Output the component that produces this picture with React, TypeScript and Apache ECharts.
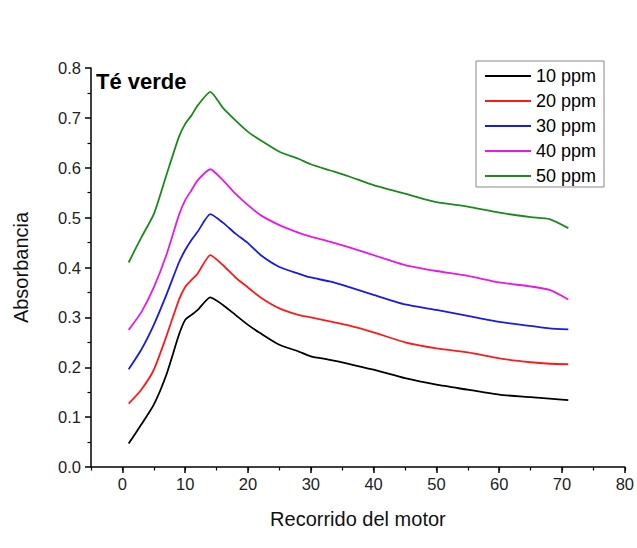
import React, { useEffect, useRef } from "react";
import * as echarts from "echarts";

const recorrido = [1, 3, 5, 7, 9, 10, 11, 12, 14, 16, 18, 20, 22, 25, 28, 30, 33, 36, 40, 45, 50, 55, 60, 65, 68, 71];
const ppm10 = [0.047, 0.085, 0.125, 0.185, 0.265, 0.295, 0.305, 0.315, 0.34, 0.325, 0.305, 0.285, 0.268, 0.245, 0.232, 0.222, 0.215, 0.207, 0.195, 0.178, 0.165, 0.155, 0.145, 0.14, 0.137, 0.134];
const ppm20 = [0.127, 0.155, 0.195, 0.262, 0.335, 0.361, 0.375, 0.388, 0.425, 0.405, 0.38, 0.36, 0.34, 0.318, 0.305, 0.3, 0.292, 0.284, 0.27, 0.25, 0.238, 0.23, 0.218, 0.21, 0.207, 0.206];
const ppm30 = [0.196, 0.235, 0.285, 0.345, 0.41, 0.435, 0.455, 0.472, 0.507, 0.49, 0.468, 0.449, 0.425, 0.401, 0.388, 0.38, 0.372, 0.361, 0.345, 0.326, 0.315, 0.303, 0.291, 0.283, 0.278, 0.276];
const ppm40 = [0.275, 0.31, 0.36, 0.425, 0.505, 0.535, 0.555, 0.575, 0.597, 0.575, 0.548, 0.525, 0.505, 0.485, 0.47, 0.462, 0.452, 0.441, 0.425, 0.405, 0.393, 0.383, 0.37, 0.362, 0.355, 0.336];
const ppm50 = [0.41, 0.46, 0.507, 0.585, 0.662, 0.688, 0.705, 0.725, 0.752, 0.72, 0.695, 0.672, 0.655, 0.632, 0.618, 0.607, 0.595, 0.583, 0.565, 0.548, 0.531, 0.522, 0.51, 0.501, 0.497, 0.479];

const seriesNames = ["10 ppm", "20 ppm", "30 ppm", "40 ppm", "50 ppm"];
const seriesColors = ["#000000", "#ff1a1a", "#1a1ae6", "#e619e6", "#1a8a1a"];
const seriesValues = [ppm10, ppm20, ppm30, ppm40, ppm50];
const xMajorTicks = [0, 10, 20, 30, 40, 50, 60, 70, 80];

const FONT = "'Liberation Sans', Arial, sans-serif";

export default function App() {
  const ref = useRef<HTMLDivElement>(null);
  useEffect(() => {
    document.body.style.margin = "0";
    const chart = echarts.init(ref.current!, null, { renderer: "svg" });
    chart.setOption({
      animation: false,
      backgroundColor: "#ffffff",
      textStyle: { fontFamily: FONT },
      title: {
        text: "Té verde",
        left: 96,
        top: 70,
        padding: 0,
        textStyle: { fontFamily: FONT, fontSize: 22, fontWeight: "bold", color: "#000" },
      },
      legend: {
        orient: "vertical",
        left: 476,
        top: 61,
        padding: [6, 8, 2, 9],
        itemWidth: 46,
        itemHeight: 2,
        itemGap: 7,
        icon: "rect",
        borderColor: "#8a8a8a",
        borderWidth: 1,
        data: seriesNames,
        textStyle: { fontFamily: FONT, fontSize: 18, color: "#000", lineHeight: 16 },
      },
      grid: { left: 91, right: 10, top: 68, bottom: 81, containLabel: false },
      xAxis: [
        {
          type: "value",
          min: -5,
          max: 80,
          name: "Recorrido del motor",
          nameLocation: "middle",
          nameGap: 42,
          nameTextStyle: { fontFamily: FONT, fontSize: 20, color: "#111" },
          axisLine: { show: true, onZero: false, lineStyle: { color: "#000", width: 1.5 } },
          axisTick: { show: true, inside: false, length: 6, customValues: xMajorTicks, lineStyle: { color: "#000", width: 1.5 } },
          axisLabel: { show: true, customValues: xMajorTicks, fontFamily: FONT, fontSize: 16.5, color: "#222", margin: 8 },
          splitLine: { show: false },
        },
        {
          type: "value",
          min: -5,
          max: 80,
          interval: 5,
          position: "bottom",
          axisLine: { show: false, onZero: false },
          axisTick: { show: true, inside: false, length: 3.5, lineStyle: { color: "#000", width: 1.2 } },
          axisLabel: { show: false },
          splitLine: { show: false },
        },
      ],
      yAxis: {
        type: "value",
        min: 0,
        max: 0.8,
        interval: 0.1,
        name: "Absorbancia",
        nameLocation: "middle",
        nameGap: 60,
        nameTextStyle: { fontFamily: FONT, fontSize: 20, color: "#111" },
        axisLine: { show: true, onZero: false, lineStyle: { color: "#000", width: 1.5 } },
        axisTick: { show: true, inside: false, length: 6, lineStyle: { color: "#000", width: 1.5 } },
        minorTick: { show: true, splitNumber: 2, length: 3.5, lineStyle: { color: "#000", width: 1.2 } },
        axisLabel: { fontFamily: FONT, fontSize: 16.5, color: "#222", margin: 10, formatter: (v: number) => v.toFixed(1) },
        splitLine: { show: false },
        minorSplitLine: { show: false },
      },
      series: seriesNames.map((name, i) => ({
        name,
        type: "line",
        xAxisIndex: 0,
        showSymbol: false,
        symbol: "none",
        smooth: 0.2,
        color: seriesColors[i],
        lineStyle: { width: 1.8, color: seriesColors[i] },
        data: recorrido.map((x, j) => [x, seriesValues[i][j]]),
      })),
    });
    return () => chart.dispose();
  }, []);
  return <div ref={ref} style={{ width: 637, height: 548 }} />;
}
